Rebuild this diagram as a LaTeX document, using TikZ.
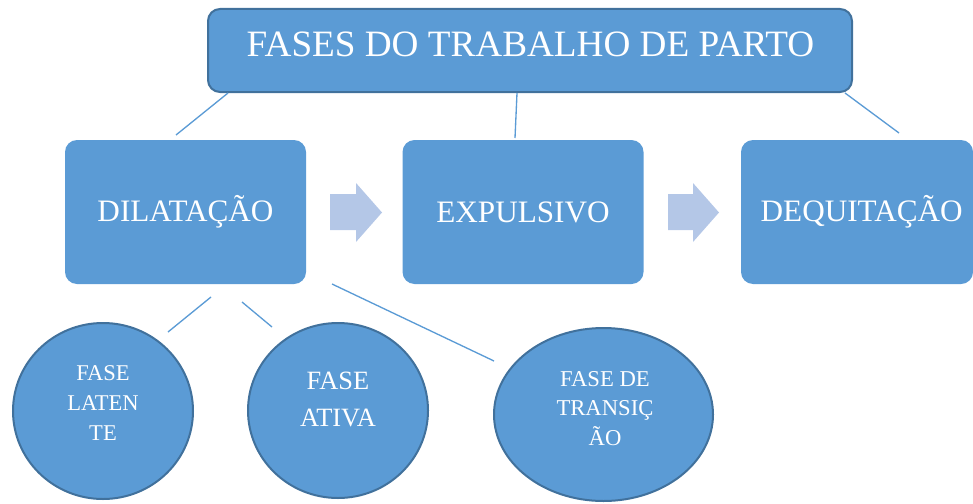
\documentclass[tikz,border=0pt]{standalone}
\usepackage{fontspec}
\setmainfont{Liberation Serif}
\usetikzlibrary{shapes.geometric}
\definecolor{boxblue}{HTML}{5B9BD5}
\definecolor{edgeblue}{HTML}{41719C}
\definecolor{arrowblue}{HTML}{B4C7E7}
\begin{document}
\begin{tikzpicture}[x=0.75pt,y=-0.75pt,
  titlebox/.style={rectangle, rounded corners=9pt, fill=boxblue, draw=edgeblue, line width=1.5pt, minimum width=483pt, minimum height=62.25pt, inner sep=0pt},
  phasebox/.style={rectangle, rounded corners=9pt, fill=boxblue, draw=none, minimum width=180.75pt, minimum height=108pt, text=white, font=\fontsize{23.4}{27}\selectfont, inner sep=0pt},
  subphase/.style={ellipse, fill=boxblue, draw=edgeblue, line width=1.5pt, inner sep=0pt},
  labeltext/.style={text=white, align=center, inner sep=0pt},
  link/.style={draw=boxblue, line width=1pt},
  blockarrow/.style={fill=arrowblue}
]
\useasboundingbox (0,0) rectangle (973,503);

% title
\node[titlebox] (top) at (530,50.5) {};
\node[labeltext, font=\fontsize{27.9}{32}\selectfont] (toptext) at (530.5,44.5) {FASES DO TRABALHO DE PARTO};

% phases
\node[phasebox] (dil) at (185.5,212) {DILATAÇÃO};
\node[phasebox] (exp) at (523,212) {EXPULSIVO};
\node[phasebox, minimum width=174pt] (deq) at (857,212) {\hspace{7pt}DEQUITAÇÃO};

% block arrows
\fill[blockarrow] (330,194) -- (356,194) -- (356,183) -- (382,212.5) -- (356,242) -- (356,230) -- (330,230) -- cycle;
\fill[blockarrow] (668,194) -- (693,194) -- (693,183) -- (719,212.5) -- (693,242) -- (693,230) -- (668,230) -- cycle;

% sub-phases
\node[subphase, minimum width=135pt, minimum height=132pt] (lat) at (103,411) {};
\node[subphase, minimum width=135pt, minimum height=131.25pt] (ativ) at (338,410.5) {};
\node[subphase, minimum width=164.25pt, minimum height=129.75pt] (tran) at (603.5,414.5) {};
\node[labeltext, font=\fontsize{16.9}{22.5}\selectfont] (latt) at (103,403) {FASE\\LATEN\\TE};
\node[labeltext, font=\fontsize{19.8}{27.75}\selectfont] (ativt) at (338,399.5) {FASE\\ATIVA};
\node[labeltext, font=\fontsize{17}{22.1}\selectfont] (trant) at (605,408.5) {FASE DE\\TRANSIÇ\\ÃO};

% connector end points
\coordinate (c1a) at (228,93);  \coordinate (c1b) at (176,135);
\coordinate (c2a) at (517,93);  \coordinate (c2b) at (515,138);
\coordinate (c3a) at (845,93);  \coordinate (c3b) at (899,133);
\coordinate (c4a) at (211,297); \coordinate (c4b) at (168,332);
\coordinate (c5a) at (242,302); \coordinate (c5b) at (272,327);
\coordinate (c6a) at (332,284); \coordinate (c6b) at (494,361);

\draw[link] (c1a) -- (c1b);
\draw[link] (c2a) -- (c2b);
\draw[link] (c3a) -- (c3b);
\draw[link] (c4a) -- (c4b);
\draw[link] (c5a) -- (c5b);
\draw[link] (c6a) -- (c6b);
\end{tikzpicture}
\end{document}
